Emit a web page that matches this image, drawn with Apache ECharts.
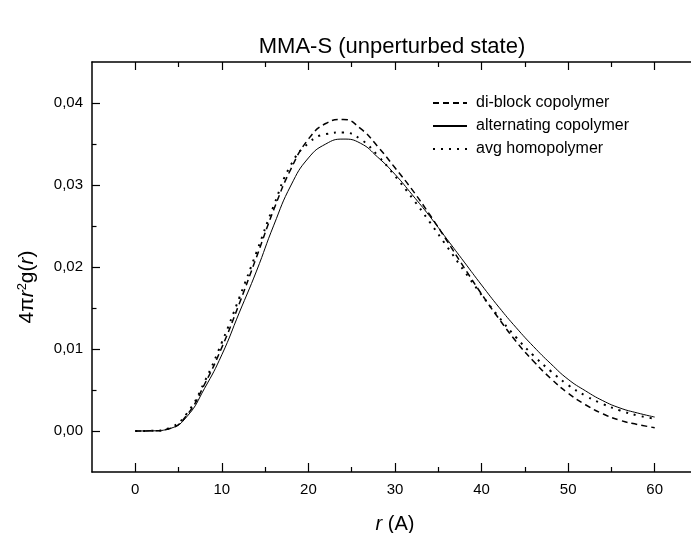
<!DOCTYPE html>
<html>
<head>
<meta charset="utf-8">
<script src="https://cdn.jsdelivr.net/npm/echarts@6/dist/echarts.min.js"></script>
<style>
html,body{margin:0;padding:0;background:#fff;}
#chart{width:691px;height:533px;}
</style>
</head>
<body>
<div id="chart"></div>
<script>
const rValues = [0,2,4,6,8,10,12,14,16,18,20,22,24,26,28,30,32,34,36,38,40,42,44,46,48,50,52,54,56,58,60];
const diblock = [0,0.00002,0.0003,0.0020,0.0057,0.0102,0.0155,0.0212,0.0270,0.0320,0.0356,0.0375,0.0380,0.0369,0.0347,0.0321,0.0294,0.0264,0.0232,0.0199,0.0167,0.0137,0.0109,0.0085,0.0064,0.0046,0.0032,0.0021,0.0013,0.0008,0.0004];
const alternating = [0,0.00002,0.0003,0.0018,0.0052,0.0093,0.0144,0.0195,0.0251,0.0300,0.0333,0.0350,0.0356,0.0351,0.0334,0.0313,0.0288,0.0262,0.0234,0.0206,0.0178,0.0151,0.0126,0.0103,0.0082,0.0063,0.0049,0.0037,0.0028,0.0022,0.0017];
const avgHomo = [0,0.00002,0.0004,0.0022,0.0060,0.0108,0.0162,0.0218,0.0275,0.0325,0.0351,0.0362,0.0364,0.0356,0.0336,0.0311,0.0284,0.0255,0.0225,0.0195,0.0166,0.0139,0.0114,0.0092,0.0073,0.0056,0.0043,0.0033,0.0025,0.0019,0.0015];
const seriesNames = ['di-block copolymer','alternating copolymer','avg homopolymer'];
const xMajor = [0,10,20,30,40,50,60];
const xMinor = [5,15,25,35,45,55];
const yMajor = [0,0.01,0.02,0.03,0.04];
const yMinor = [0.005,0.015,0.025,0.035];

const FONT = '"Liberation Sans", Arial, sans-serif';
const pairs = arr => rValues.map((r,i)=>[r,arr[i]]);
const lineCol = '#000';

function xAxisDef(pos, ticks, len, showLine, showLabel){
  return {
    type:'value', position:pos, min:-5, max:65, gridIndex:0,
    axisLine:{show:showLine, onZero:false, lineStyle:{color:lineCol, width:1.5}},
    axisTick:{show:true, inside:true, length:len, customValues:ticks, lineStyle:{color:lineCol, width:1.2}},
    axisLabel:{show:showLabel, customValues:ticks, fontFamily:FONT, fontSize:15, color:'#000', margin:10},
    splitLine:{show:false}
  };
}
function yAxisDef(pos, ticks, len, showLine, showLabel){
  return {
    type:'value', position:pos, min:-0.005, max:0.045, gridIndex:0,
    axisLine:{show:showLine, onZero:false, lineStyle:{color:lineCol, width:1.5}},
    axisTick:{show:true, inside:true, length:len, customValues:ticks, lineStyle:{color:lineCol, width:1.2}},
    axisLabel:{show:showLabel, customValues:ticks, fontFamily:FONT, fontSize:15, color:'#000', margin:9,
      formatter: v => v.toFixed(2).replace('.', ',')},
    splitLine:{show:false}
  };
}

const xa0 = xAxisDef('bottom', xMajor, 9, true, true);
xa0.name = '{i|r} (A)';
xa0.nameLocation = 'middle';
xa0.nameGap = 42;
xa0.nameTextStyle = {fontFamily:FONT, fontSize:20, color:'#000', rich:{i:{fontFamily:FONT, fontSize:20, fontStyle:'italic', color:'#000'}}};

const ya0 = yAxisDef('left', yMajor, 8, true, true);
ya0.name = '4π{i|r}{sup|2}g({i|r})';
ya0.nameLocation = 'middle';
ya0.nameRotate = 90;
ya0.nameGap = 53;
ya0.nameTextStyle = {fontFamily:FONT, fontSize:21, color:'#000', padding:[0,40,0,0],
  rich:{i:{fontFamily:FONT, fontSize:21, fontStyle:'italic', color:'#000'},
        sup:{fontFamily:FONT, fontSize:13, color:'#000', padding:[0,0,10,0]}}};

const styles = [
  {type:[6,4], width:1.5},
  {type:'solid', width:1},
  {type:[2,6], width:2}
];
const datas = [diblock, alternating, avgHomo];

const option = {
  backgroundColor:'#fff',
  animation:false,
  title:{text:'MMA-S (unperturbed state)', left:387, top:31, textAlign:'center',
    textStyle:{fontFamily:FONT, fontSize:22, fontWeight:'normal', color:'#000'}},
  legend:{orient:'vertical', left:432, top:95, itemWidth:34, itemHeight:14, itemGap:7, padding:0,
    itemStyle:{opacity:0},
    textStyle:{fontFamily:FONT, fontSize:16, color:'#000', padding:[0,0,0,4]},
    data:seriesNames},
  grid:{left:92, right:-7, top:62, bottom:61, containLabel:false, outerBoundsMode:'none'},
  xAxis:[xa0, xAxisDef('bottom', xMinor, 5, false, false), xAxisDef('top', xMajor, 8, true, false), xAxisDef('top', xMinor, 5, false, false)],
  yAxis:[ya0, yAxisDef('left', yMinor, 4.5, false, false)],
  series: seriesNames.map((n,i)=>({
    name:n, type:'line', xAxisIndex:0, yAxisIndex:0, showSymbol:false, symbol:'none', smooth:true,
    data:pairs(datas[i]),
    lineStyle:{color:'#000', width:styles[i].width, type:styles[i].type},
    itemStyle:{color:'#000'}
  }))
};
const chart = echarts.init(document.getElementById('chart'), null, {renderer:'canvas'});
chart.setOption(option);
</script>
</body>
</html>
